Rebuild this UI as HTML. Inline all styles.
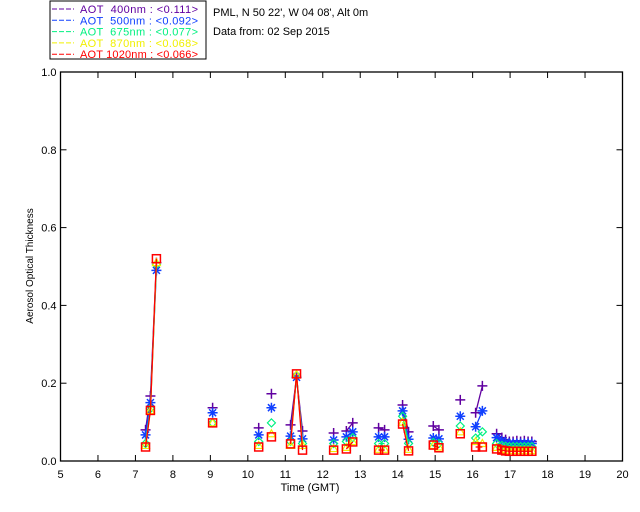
<!DOCTYPE html>
<html><head><meta charset="utf-8"><style>
body{margin:0;background:#fff;}
svg{display:block;font-family:"Liberation Sans",sans-serif;}
#legend text{white-space:pre;}
</style></head><body>
<svg id="chart" width="640" height="512" viewBox="0 0 640 512">
<rect x="50" y="1" width="156" height="58" fill="#fff" stroke="#000"/>
<g id="legend" font-size="11"></g>
<text x="213" y="16" font-size="11">PML, N 50 22', W 04 08', Alt 0m</text>
<text x="213" y="35" font-size="11">Data from: 02 Sep 2015</text>
<g id="axes"></g>
<g id="marks"></g>
<text x="310" y="491" font-size="11" text-anchor="middle">Time (GMT)</text>
<text transform="translate(33,266) rotate(-90)" font-size="10" text-anchor="middle">Aerosol Optical Thickness</text>
</svg>
<script>
const times=[7.27,7.40,7.56,9.06,10.29,10.63,11.14,11.30,11.46,12.29,12.63,12.80,13.49,13.65,14.13,14.29,14.95,15.10,15.67,16.08,16.26,16.64,16.78,16.88,16.98,17.08,17.18,17.28,17.38,17.48,17.58];
const aot400=[0.080,0.167,0.510,0.137,0.085,0.173,0.093,0.215,0.077,0.072,0.077,0.098,0.085,0.080,0.144,0.075,0.090,0.080,0.157,0.124,0.193,0.070,0.060,0.055,0.050,0.050,0.052,0.050,0.052,0.050,0.050];
const aot500=[0.067,0.150,0.490,0.124,0.067,0.137,0.064,0.215,0.057,0.054,0.062,0.075,0.062,0.062,0.129,0.056,0.059,0.057,0.115,0.088,0.129,0.060,0.052,0.048,0.045,0.045,0.045,0.045,0.045,0.045,0.045];
const aot675=[0.045,0.135,0.505,0.098,0.050,0.098,0.050,0.220,0.045,0.045,0.050,0.060,0.045,0.045,0.115,0.045,0.048,0.045,0.090,0.059,0.075,0.045,0.040,0.038,0.037,0.037,0.037,0.037,0.037,0.037,0.037];
const aot870=[0.040,0.130,0.510,0.098,0.040,0.070,0.040,0.222,0.040,0.032,0.035,0.050,0.030,0.030,0.100,0.030,0.040,0.036,0.075,0.050,0.045,0.035,0.030,0.028,0.027,0.027,0.027,0.027,0.027,0.027,0.027];
const aot1020=[0.036,0.130,0.520,0.098,0.036,0.062,0.044,0.224,0.028,0.028,0.031,0.049,0.028,0.028,0.095,0.026,0.041,0.034,0.070,0.036,0.036,0.031,0.028,0.026,0.025,0.025,0.025,0.025,0.025,0.025,0.025];
const xTicks=[5,6,7,8,9,10,11,12,13,14,15,16,17,18,19,20];
const yTicks=[0,0.2,0.4,0.6,0.8,1.0];
const legendLabels=["AOT  400nm : <0.111>","AOT  500nm : <0.092>","AOT  675nm : <0.077>","AOT  870nm : <0.068>","AOT 1020nm : <0.066>"];

const NS="http://www.w3.org/2000/svg";
const X0=60.5,X1=622.5,Y0=461,Y1=72;
const xs=t=>X0+(t-5)/15*(X1-X0);
const ys=v=>Y0-v*(Y0-Y1);
function mk(tag,attrs,parent){const e=document.createElementNS(NS,tag);for(const k in attrs)e.setAttribute(k,attrs[k]);parent.appendChild(e);return e;}
const axes=document.getElementById('axes'),marks=document.getElementById('marks'),legend=document.getElementById('legend');

const frame=mk('rect',{x:X0,y:Y1,width:X1-X0,height:Y0-Y1,fill:'none',stroke:'#000','stroke-width':1.3},axes);


xTicks.forEach(t=>{
  const x=xs(t);
  mk('line',{x1:x,y1:Y0,x2:x,y2:Y0-6,stroke:'#000'},axes);
  mk('line',{x1:x,y1:Y1,x2:x,y2:Y1+6,stroke:'#000'},axes);
  const lb=mk('text',{x:x,y:Y0+17,'font-size':11,'text-anchor':'middle'},axes);
  lb.textContent=t;
  
  
});
yTicks.forEach(v=>{
  const y=ys(v);
  mk('line',{x1:X0,y1:y,x2:X0+6,y2:y,stroke:'#000'},axes);
  mk('line',{x1:X1,y1:y,x2:X1-6,y2:y,stroke:'#000'},axes);
  const lb=mk('text',{x:X0-4,y:y+4,'font-size':11,'text-anchor':'end'},axes);
  lb.textContent=v.toFixed(1);
  
  
});

const series=[aot400,aot500,aot675,aot870,aot1020];
const colors=['#6000a0','#1040ff','#00f080','#f0f000','#ff0000'];
const names=['aot-400','aot-500','aot-675','aot-870','aot-1020'];
series.forEach((vals,si)=>{
  const g=mk('g',{},marks);
  
  
  const c=colors[si];
  for(let i=1;i<times.length;i++){
    if(times[i]-times[i-1]<0.25){
      mk('line',{x1:xs(times[i-1]),y1:ys(vals[i-1]),x2:xs(times[i]),y2:ys(vals[i]),stroke:c,'stroke-width':1.3},g);
    }
  }
  vals.forEach((v,i)=>{
    const x=xs(times[i]),y=ys(v);let m;
    if(si===0){m=mk('path',{d:`M${x-5},${y}H${x+5}M${x},${y-5}V${y+5}`,stroke:c,'stroke-width':1.5,fill:'none'},g);}
    else if(si===1){m=mk('path',{d:`M${x-5},${y}H${x+5}M${x},${y-5}V${y+5}M${x-3.5},${y-3.5}L${x+3.5},${y+3.5}M${x-3.5},${y+3.5}L${x+3.5},${y-3.5}`,stroke:c,'stroke-width':1.5,fill:'none'},g);}
    else if(si===2){m=mk('path',{d:`M${x},${y-4}L${x+4},${y}L${x},${y+4}L${x-4},${y}Z`,stroke:c,'stroke-width':1.2,fill:'none'},g);}
    else if(si===3){m=mk('path',{d:`M${x},${y-4}L${x+4},${y+3}L${x-4},${y+3}Z`,stroke:c,'stroke-width':1.2,fill:'none'},g);}
    else {m=mk('rect',{x:x-4,y:y-4,width:8,height:8,stroke:c,'stroke-width':1.5,fill:'none'},g);}
    
    
  });
});

legendLabels.forEach((s,i)=>{
  const y=13+i*11.3;
  const ln=mk('line',{x1:52,y1:y-4,x2:74,y2:y-4,stroke:colors[i],'stroke-dasharray':'5,2'},legend);
  
  
  const t=mk('text',{x:80,y:y,fill:colors[i],textLength:118,lengthAdjust:'spacing'},legend);
  t.textContent=s;
  
  
});
</script>
</body></html>
